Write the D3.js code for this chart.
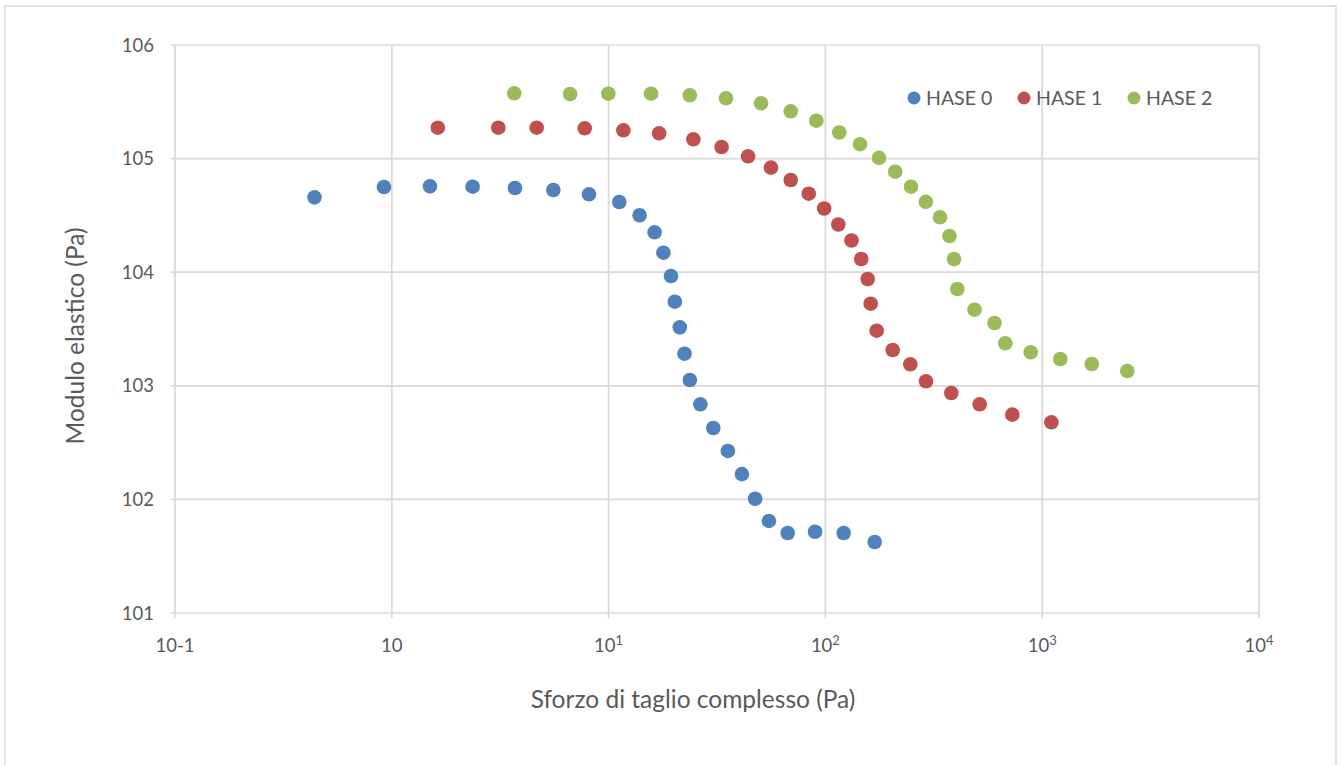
<!DOCTYPE html>
<html>
<head>
<meta charset="utf-8">
<script src="https://cdn.jsdelivr.net/npm/d3@7"></script>
<style>
  html, body { margin: 0; padding: 0; background: #ffffff; }
  svg { display: block; font-family: Lato, "Open Sans", sans-serif; }
</style>
</head>
<body>
<svg id="chart" width="1341" height="765"></svg>
<script>
// Complex shear stress (Pa) and elastic modulus (Pa) for each series
const hase0Stress = [0.44, 0.92, 1.50, 2.36, 3.70, 5.56, 8.12, 11.2, 13.9, 16.3, 17.9, 19.4, 20.2, 21.3, 22.4, 23.7, 26.5, 30.4, 35.5, 41.2, 47.4, 54.9, 67.0, 89.6, 121.4, 168.8];
const hase0Modulus = [45600, 56200, 57000, 56600, 55100, 52900, 48500, 41500, 31700, 22450, 14850, 9260, 5500, 3270, 1917, 1125, 687, 425, 267, 167, 101.4, 64.6, 50.6, 51.9, 50.6, 42.2];

const hase1Stress = [1.63, 3.10, 4.66, 7.76, 11.7, 17.1, 24.6, 33.2, 44.0, 56.1, 69.2, 83.8, 98.7, 114.7, 131.9, 146.3, 156.7, 161.8, 172.4, 204.4, 246.4, 291.1, 380.8, 514.8, 728, 1102];
const hase1Modulus = [187100, 187100, 187100, 184800, 177500, 167000, 147900, 126500, 104800, 83200, 64800, 49100, 36370, 26300, 19010, 13070, 8710, 5280, 3055, 2066, 1546, 1095, 864, 687, 557, 477];

const hase2Stress = [3.67, 6.64, 9.97, 15.7, 23.7, 34.8, 50.5, 69.2, 90.8, 115.9, 144.4, 176.7, 209.9, 248.2, 290.5, 337.8, 373.6, 392, 405.9, 487.3, 602.6, 675.6, 885, 1212, 1693, 2469];
const hase2Modulus = [375700, 370400, 372700, 372700, 360800, 339600, 306900, 260900, 215600, 169800, 133900, 101600, 76700, 56600, 41660, 30440, 20830, 13070, 7115, 4677, 3572, 2367, 1972, 1722, 1556, 1350];

const seriesNames = ["HASE 0", "HASE 1", "HASE 2"];
const seriesColors = ["#4f81bd", "#c0504d", "#9bbb59"];

// Tick values and their printed labels
const xTickValues = [0.1, 1, 10, 100, 1000, 10000];
const xTickBase = ["10-1", "10", "10", "10", "10", "10"];
const xTickExp = ["", "", "1", "2", "3", "4"];
const yTickValues = [10, 100, 1000, 10000, 100000, 1000000];
const yTickLabels = ["101", "102", "103", "104", "105", "106"];

const xTitle = "Sforzo di taglio complesso (Pa)";
const yTitle = "Modulo elastico (Pa)";

const series = [
  { name: seriesNames[0], color: seriesColors[0], pts: hase0Stress.map((s, i) => [s, hase0Modulus[i]]) },
  { name: seriesNames[1], color: seriesColors[1], pts: hase1Stress.map((s, i) => [s, hase1Modulus[i]]) },
  { name: seriesNames[2], color: seriesColors[2], pts: hase2Stress.map((s, i) => [s, hase2Modulus[i]]) }
];

const svg = d3.select("#chart");
const plot = { left: 175, right: 1259, top: 45, bottom: 613 };
const gridColor = "#d9d9d9";
const textColor = "#595959";

// Chart frame
svg.append("rect")
  .attr("x", 5).attr("y", 6).attr("width", 1331).attr("height", 780)
  .attr("fill", "#fff").attr("stroke", gridColor).attr("stroke-width", 1.5);

const x = d3.scaleLog().domain([0.1, 10000]).range([plot.left, plot.right]);
const y = d3.scaleLog().domain([10, 1000000]).range([plot.bottom, plot.top]);

// Gridlines
const grid = svg.append("g");
grid.selectAll("line.v").data(xTickValues).join("line")
  .attr("x1", d => x(d)).attr("x2", d => x(d))
  .attr("y1", plot.top).attr("y2", plot.bottom + 5)
  .attr("stroke", gridColor).attr("stroke-width", 1.7);
grid.selectAll("line.h").data(yTickValues).join("line")
  .attr("x1", plot.left - 4).attr("x2", plot.right)
  .attr("y1", d => y(d)).attr("y2", d => y(d))
  .attr("stroke", gridColor).attr("stroke-width", 1.7);

// X tick labels with superscript exponents
const xl = svg.append("g").selectAll("text").data(xTickValues).join("text")
  .attr("x", d => x(d)).attr("y", 652)
  .attr("text-anchor", "middle")
  .attr("fill", textColor).attr("font-size", 18.5);
xl.append("tspan").text((d, i) => xTickBase[i]);
xl.append("tspan").attr("dy", -7).attr("font-size", 13).text((d, i) => xTickExp[i]);

// Y tick labels
svg.append("g").selectAll("text").data(yTickValues).join("text")
  .attr("x", 154).attr("y", d => y(d) + 6.5)
  .attr("text-anchor", "end")
  .attr("fill", textColor).attr("font-size", 18.5)
  .text((d, i) => yTickLabels[i]);

// Axis titles
svg.append("text")
  .attr("x", 693).attr("y", 708)
  .attr("text-anchor", "middle")
  .attr("fill", textColor).attr("font-size", 24.5)
  .text(xTitle);
svg.append("text")
  .attr("transform", "translate(84,336) rotate(-90)")
  .attr("text-anchor", "middle")
  .attr("fill", textColor).attr("font-size", 24.5)
  .text(yTitle);

// Data markers
const marks = svg.append("g");
series.forEach(s => {
  marks.append("g").selectAll("circle").data(s.pts).join("circle")
    .attr("cx", d => x(d[0])).attr("cy", d => y(d[1]))
    .attr("r", 7.3)
    .attr("fill", s.color);
});

// Legend
const legendX = [914, 1024, 1134];
const legend = svg.append("g").selectAll("g").data(series).join("g")
  .attr("transform", (d, i) => `translate(${legendX[i]},98)`);
legend.append("circle").attr("r", 6.5).attr("fill", d => d.color);
legend.append("text")
  .attr("x", 12).attr("y", 7)
  .attr("fill", textColor).attr("font-size", 19.5)
  .text(d => d.name);
</script>
</body>
</html>
